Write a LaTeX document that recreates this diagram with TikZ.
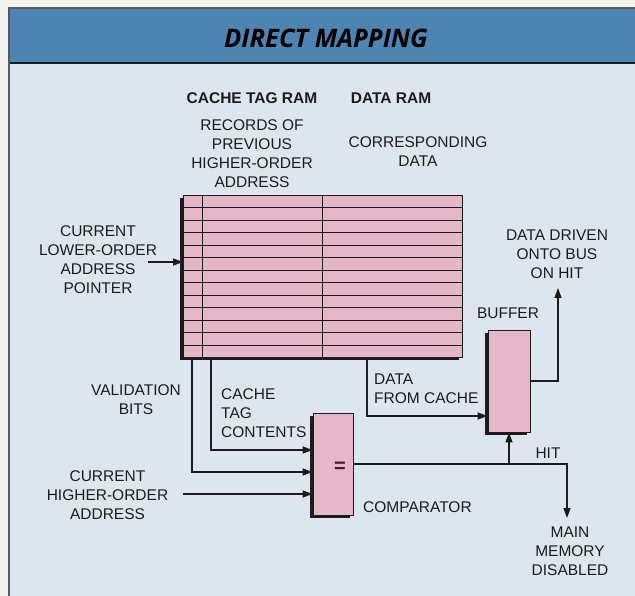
\documentclass[tikz,border=0pt]{standalone}
\usepackage{fontspec}
\setmainfont{Liberation Sans}
\newfontfamily\titlefont{Open Sans}
\usetikzlibrary{arrows.meta,calc,shadows}
\definecolor{outside}{HTML}{F3F3EF}
\definecolor{panel}{HTML}{DDE6EE}
\definecolor{band}{HTML}{4D84B2}
\definecolor{pinkfill}{HTML}{E5B7C9}
\definecolor{ink}{HTML}{1C1C1C}
\definecolor{framegray}{HTML}{5A5A5A}
\definecolor{eqcol}{HTML}{4A1A2A}
\begin{document}
\begin{tikzpicture}[x=1pt,y=-1pt,
  txt/.style={font=\fontsize{15.5}{19}\selectfont, align=center, inner sep=0pt, text=ink},
  hdr/.style={font=\fontsize{15.5}{19}\selectfont\bfseries, inner sep=0pt, text=ink},
  wire/.style={draw=ink, line width=1.4pt},
  arr/.style={wire, -{Triangle[length=10pt,width=7pt]}},
  blk/.style={draw=ink, line width=0.9pt, fill=pinkfill, inner sep=0pt,
    general shadow={shadow xshift=-3pt, shadow yshift=-3pt, fill=ink}},
  grid/.style={draw=ink, line width=0.8pt}
]
\useasboundingbox (0,0) rectangle (635,596);
\fill[outside] (0,0) rectangle (635,596);
\fill[panel] (9,8) rectangle (635,596);
\fill[band] (9,8) rectangle (635,63);
\draw[line width=1.2pt, draw=ink] (9,63) -- (635,63);
\draw[line width=1.5pt, draw=framegray] (9,596) -- (9,8) -- (635,8);
\node[font=\titlefont\fontsize{25.5}{27}\selectfont\bfseries\itshape, text=black, inner sep=0pt] (title) at (326,38.5) {DIRECT MAPPING};

% RAM array
\node[blk, minimum width=279pt, minimum height=162pt, anchor=north west] (ram) at (183,195) {};
\foreach \i in {1,...,12}
  \draw[grid] ($(ram.north west)!\i/13!(ram.south west)$) -- ($(ram.north east)!\i/13!(ram.south east)$);
\draw[grid] ([xshift=19pt]ram.north west) -- ([xshift=19pt]ram.south west);
\draw[grid] ([xshift=139pt]ram.north west) -- ([xshift=139pt]ram.south west);

% comparator and buffer
\node[blk, minimum width=40pt, minimum height=102pt] (comp) at (333,464) {};
\node[font=\fontsize{20}{20}\selectfont\bfseries, text=eqcol, inner sep=0pt] (eq) at (340,467) {=};
\node[blk, minimum width=42pt, minimum height=102pt] (buf) at (509,381) {};

% labels
\node[hdr] (hdrtag) at (252,98) {CACHE TAG RAM};
\node[hdr] (hdrdata) at (391,98) {DATA RAM};
\node[txt] (records) at (252,153.5) {RECORDS OF\\PREVIOUS\\HIGHER-ORDER\\ADDRESS};
\node[txt] (corr) at (418,152) {CORRESPONDING\\DATA};
\node[txt] (lower) at (98,259.5) {CURRENT\\LOWER-ORDER\\ADDRESS\\POINTER};
\node[txt] (valid) at (136,400) {VALIDATION\\BITS};
\node[txt, align=left, anchor=west] (tagc) at (221,413.5) {CACHE\\TAG\\CONTENTS};
\node[txt] (higher) at (107.5,495) {CURRENT\\HIGHER-ORDER\\ADDRESS};
\node[txt, anchor=west] (complbl) at (363,507) {COMPARATOR};
\node[txt, align=left, anchor=west] (dfc) at (374,388.5) {DATA\\FROM CACHE};
\node[txt] (buflbl) at (508,313) {BUFFER};
\node[txt] (driven) at (557,254) {DATA DRIVEN\\ONTO BUS\\ON HIT};
\node[txt] (hit) at (548,453) {HIT};
\node[txt] (mainmem) at (570,551) {MAIN\\MEMORY\\DISABLED};

% connector coordinates
\coordinate (la) at (148,262);
\coordinate (vb) at (192,472);
\coordinate (tg) at (211,450);
\coordinate (ha) at (183,494);
\coordinate (dc) at (367,416);
\coordinate (mm) at (567,518);
\coordinate (bo) at (558,288);

% connectors
\draw[arr] (la) -- (ram.west |- la);
\draw[arr] (ram.south -| vb) |- (comp.west |- vb);
\draw[arr] (ram.south -| tg) |- (comp.west |- tg);
\draw[arr] (ha) -- (comp.west |- ha);
\draw[arr] (ram.south -| dc) |- (buf.west |- dc);
\draw[arr] (comp.east) -| (mm);
\draw[arr] (buf.south |- comp.east) -- (buf.south);
\draw[arr] (buf.east) -| (bo);
\end{tikzpicture}
\end{document}
